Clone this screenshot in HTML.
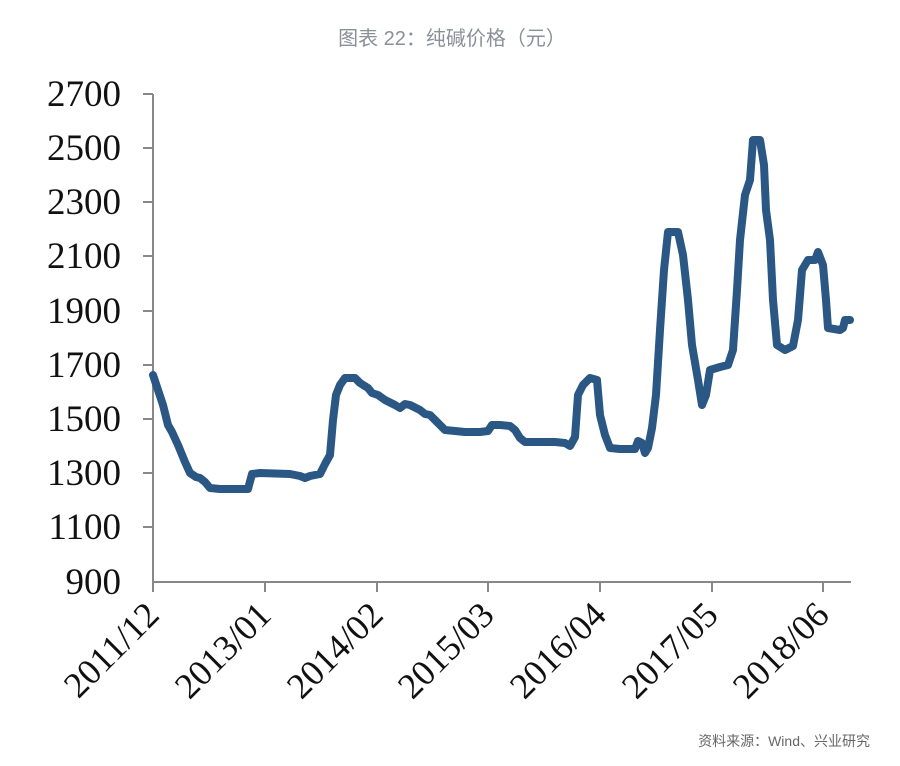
<!DOCTYPE html>
<html><head><meta charset="utf-8"><style>
html,body{margin:0;padding:0;background:#fff;}
</style></head><body>
<svg width="900" height="761" xmlns="http://www.w3.org/2000/svg">
<text x="452" y="45" text-anchor="middle" font-family="Liberation Sans, Noto Sans CJK SC, sans-serif" font-size="20" fill="#8a9099">图表 22：纯碱价格（元）</text>
<g stroke="#888" stroke-width="2" fill="none">
<line x1="153" y1="94" x2="153" y2="582"/>
<line x1="153" y1="582" x2="851" y2="582"/>
<line x1="143" y1="94" x2="153" y2="94"/><line x1="143" y1="148" x2="153" y2="148"/><line x1="143" y1="202" x2="153" y2="202"/><line x1="143" y1="256" x2="153" y2="256"/><line x1="143" y1="311" x2="153" y2="311"/><line x1="143" y1="365" x2="153" y2="365"/><line x1="143" y1="419" x2="153" y2="419"/><line x1="143" y1="473" x2="153" y2="473"/><line x1="143" y1="527" x2="153" y2="527"/>
<line x1="153" y1="582" x2="153" y2="592"/><line x1="265" y1="582" x2="265" y2="592"/><line x1="377" y1="582" x2="377" y2="592"/><line x1="488" y1="582" x2="488" y2="592"/><line x1="600" y1="582" x2="600" y2="592"/><line x1="712" y1="582" x2="712" y2="592"/><line x1="823" y1="582" x2="823" y2="592"/>
</g>
<g font-family="Liberation Serif, serif" font-size="37" fill="#111" text-anchor="end">
<text x="121" y="106">2700</text><text x="121" y="160">2500</text><text x="121" y="214">2300</text><text x="121" y="268">2100</text><text x="121" y="323">1900</text><text x="121" y="377">1700</text><text x="121" y="431">1500</text><text x="121" y="485">1300</text><text x="121" y="539">1100</text><text x="121" y="594">900</text>
</g>
<g font-family="Liberation Serif, serif" font-size="36" fill="#111" text-anchor="end">
<text transform="translate(161,617) rotate(-45)">2011/12</text>
<text transform="translate(273,617) rotate(-45)">2013/01</text>
<text transform="translate(385,617) rotate(-45)">2014/02</text>
<text transform="translate(496,617) rotate(-45)">2015/03</text>
<text transform="translate(608,617) rotate(-45)">2016/04</text>
<text transform="translate(720,617) rotate(-45)">2017/05</text>
<text transform="translate(831,617) rotate(-45)">2018/06</text>
</g>
<polyline fill="none" stroke="#2a5783" stroke-width="8" stroke-linejoin="round" stroke-linecap="round" points="153,375 158,390 163,405 168,425 172,432 178,445 185,462 190,473 196,477 200,478 205,482 210,488 220,489 248,489 252,474 260,473 290,474 300,476 305,478 310,476 320,474 325,464 330,455 333,420 336,395 340,385 345,378 355,378 360,383 368,388 372,393 378,395 385,400 395,405 400,408 405,404 410,405 420,410 425,414 430,415 438,423 445,430 455,431 465,432 480,432 488,431 492,425 500,425 510,426 515,430 520,438 525,442 555,442 565,443 570,446 575,437 578,395 583,385 590,378 597,380 600,415 605,435 610,448 620,449 635,449 638,441 642,443 645,453 648,448 652,428 656,395 660,330 664,270 668,232 678,232 683,255 688,300 692,345 698,380 702,405 706,395 710,370 720,367 728,365 733,350 737,290 740,240 745,195 750,180 753,140 760,140 764,165 766,210 770,240 773,300 777,345 785,350 793,346 798,320 802,270 808,260 815,260 818,252 823,265 826,300 828,328 840,330 843,328 845,320 850,320"/>
<text x="870" y="746" text-anchor="end" font-family="Liberation Sans, Noto Sans CJK SC, sans-serif" font-size="14" fill="#666">资料来源：Wind、兴业研究</text>
</svg>
</body></html>
